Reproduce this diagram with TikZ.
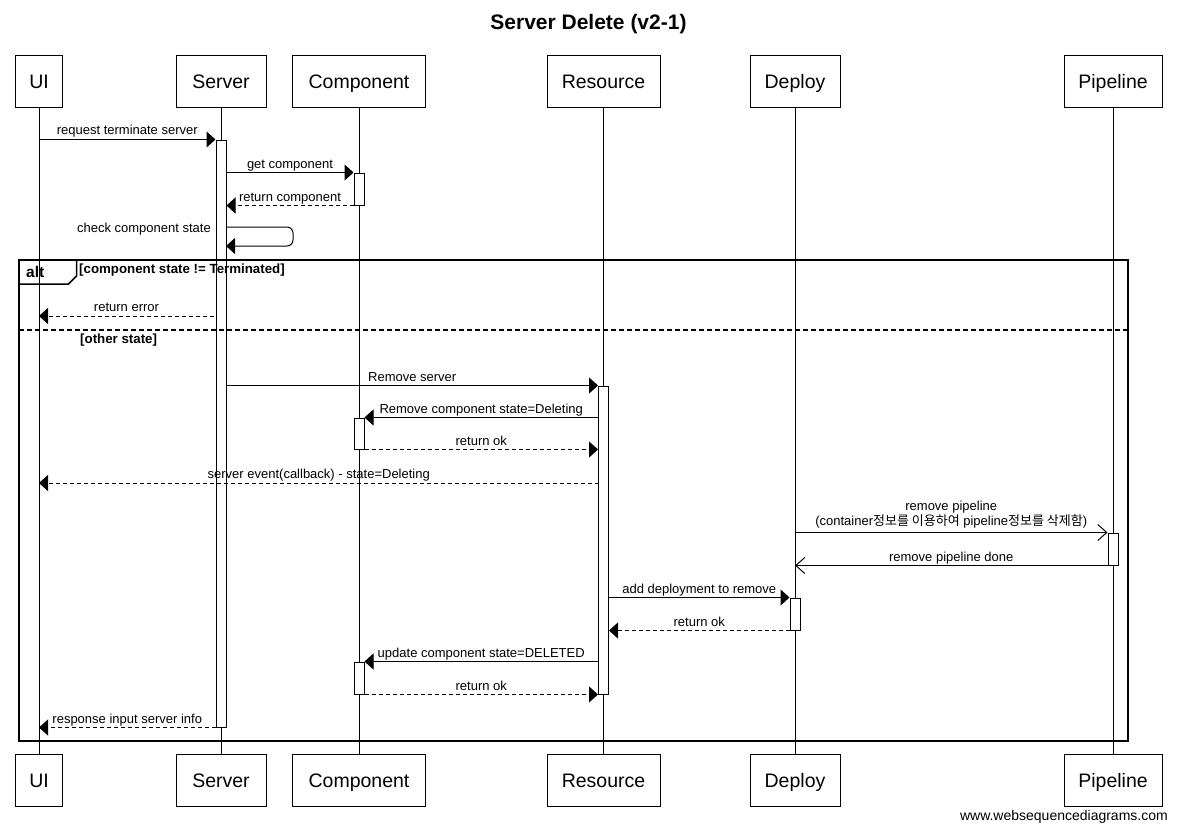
\documentclass[tikz,border=0pt]{standalone}
\usepackage{fontspec}
\setmainfont{Liberation Sans}
\newfontfamily\krfont{Noto Sans CJK KR}
\usetikzlibrary{arrows.meta}
\begin{document}
\begin{tikzpicture}[x=1pt,y=-1pt,
  part/.style={draw, line width=1pt, minimum height=52pt, inner sep=0pt, text height=14pt, text depth=0pt, font=\fontsize{19.5}{22}\selectfont},
  act/.style={draw, fill=white, line width=1pt, minimum width=10pt, inner sep=0pt},
  life/.style={line width=1pt},
  msg/.style={line width=1pt, -{Triangle[length=9pt,width=16pt]}},
  ret/.style={msg, dash pattern=on 4pt off 3pt},
  async/.style={line width=1pt, -{Straight Barb[length=9pt,width=16pt]}},
  lbl/.style={font=\fontsize{13}{15}\selectfont, anchor=base, inner sep=0pt, yshift=4.5pt},
  frametext/.style={font=\bfseries\fontsize{13.3}{15}\selectfont, anchor=base west, inner sep=0pt},
]
\useasboundingbox[fill=white] (0,0) rectangle (1177,832);

% title
\node[font=\bfseries\fontsize{21}{24}\selectfont, anchor=base, inner sep=0pt] (title) at (588.5,30) {Server Delete (v2-1)};

% participants
\node[part, minimum width=47pt]  (uiT) at (39,82) {UI};
\node[part, minimum width=90pt]  (sT)  at (221,82) {Server};
\node[part, minimum width=133pt] (cT)  at (359,82) {Component};
\node[part, minimum width=113pt] (rT)  at (603.5,82) {Resource};
\node[part, minimum width=90pt]  (dT)  at (795,82) {Deploy};
\node[part, minimum width=98pt]  (pT)  at (1113,82) {Pipeline};

\node[part, minimum width=47pt]  (uiB) at (39,780) {UI};
\node[part, minimum width=90pt]  (sB)  at (221,780) {Server};
\node[part, minimum width=133pt] (cB)  at (359,780) {Component};
\node[part, minimum width=113pt] (rB)  at (603.5,780) {Resource};
\node[part, minimum width=90pt]  (dB)  at (795,780) {Deploy};
\node[part, minimum width=98pt]  (pB)  at (1113,780) {Pipeline};

% lifelines
\draw[life] (uiT) -- (uiB);
\draw[life] (sT) -- (sB);
\draw[life] (cT) -- (cB);
\draw[life] (rT) -- (rB);
\draw[life] (dT) -- (dB);
\draw[life] (pT) -- (pB);

% activations
\node[act, minimum height=587pt] (aS)  at (221,433.5) {};
\node[act, minimum height=32pt]  (aC1) at (359,189) {};
\node[act, minimum height=31pt]  (aC2) at (359,433.5) {};
\node[act, minimum height=32pt]  (aC3) at (359,678) {};
\node[act, minimum height=308pt] (aR)  at (603.5,540) {};
\node[act, minimum height=32pt]  (aP)  at (1113,549) {};
\node[act, minimum height=32pt]  (aD)  at (795,614) {};

% alt frame
\draw[line width=2pt] (19,260) rectangle (1128,741);
\draw[line width=1.5pt] (19,284) -- (68.5,284) -- (76.5,276) -- (76.5,260);
\node[font=\bfseries\fontsize{15.5}{18}\selectfont, anchor=base west, inner sep=0pt] (altlbl) at (26,277) {alt};
\node[frametext] (g1) at (79,273.5) {[component state != Terminated]};
\draw[line width=2pt, dash pattern=on 5pt off 3pt] (19,330) -- (1128,330);
\node[frametext] (g2) at (80,343.5) {[other state]};

% messages
\draw[msg] (uiT |- aS.north west) -- (aS.north west)
  node[lbl, midway] {request terminate server};
\draw[msg] (aS.east |- aC1.north west) -- (aC1.north west)
  node[lbl, midway] {get component};
\draw[ret] (aC1.south west) -- (aS.east |- aC1.south west)
  node[lbl, midway] {return component};

\coordinate (s1) at (226,227);
\coordinate (s2) at (226,246);
\draw[msg, rounded corners=6pt] (s1) -- ++(67,0) -- ++(0,19) -- (s2);
\node[font=\fontsize{13}{15}\selectfont, anchor=base east, inner sep=0pt] (selflbl) at (211,232.5) {check component state};

\coordinate (re) at (214,316);
\draw[ret] (re) -- (uiT |- re)
  node[lbl, midway] {return error};

\draw[msg] (aS.east |- aR.north west) -- (aR.north west)
  node[lbl, midway] {Remove server};
\draw[msg] (aR.west |- aC2.north east) -- (aC2.north east)
  node[lbl, midway] {Remove component state=Deleting};
\draw[ret] (aC2.south east) -- (aR.west |- aC2.south east)
  node[lbl, midway] {return ok};

\coordinate (ev) at (598.5,483);
\draw[ret] (ev) -- (uiT |- ev)
  node[lbl, midway] {server event(callback) - state=Deleting};

\draw[async] (dT |- aP.north west) -- (aP.north west)
  node[lbl, midway, yshift=2.5pt] {(container{\krfont 정보를 이용하여} pipeline{\krfont 정보를 삭제함})}
  node[lbl, midway, yshift=18pt] {remove pipeline};
\draw[async] (aP.south west) -- (dT |- aP.south west)
  node[lbl, midway] {remove pipeline done};

\draw[msg] (aR.east |- aD.north west) -- (aD.north west)
  node[lbl, midway] {add deployment to remove};
\draw[ret] (aD.south west) -- (aR.east |- aD.south west)
  node[lbl, midway] {return ok};

\draw[msg] (aR.west |- aC3.north east) -- (aC3.north east)
  node[lbl, midway] {update component state=DELETED};
\draw[ret] (aC3.south east) -- (aR.west |- aC3.south east)
  node[lbl, midway] {return ok};

\draw[ret] (aS.south west) -- (uiT |- aS.south west)
  node[lbl, midway] {response input server info};

% footer
\node[font=\fontsize{14}{16}\selectfont, anchor=base east, inner sep=0pt] (footer) at (1168,820) {www.websequencediagrams.com};
\end{tikzpicture}
\end{document}
